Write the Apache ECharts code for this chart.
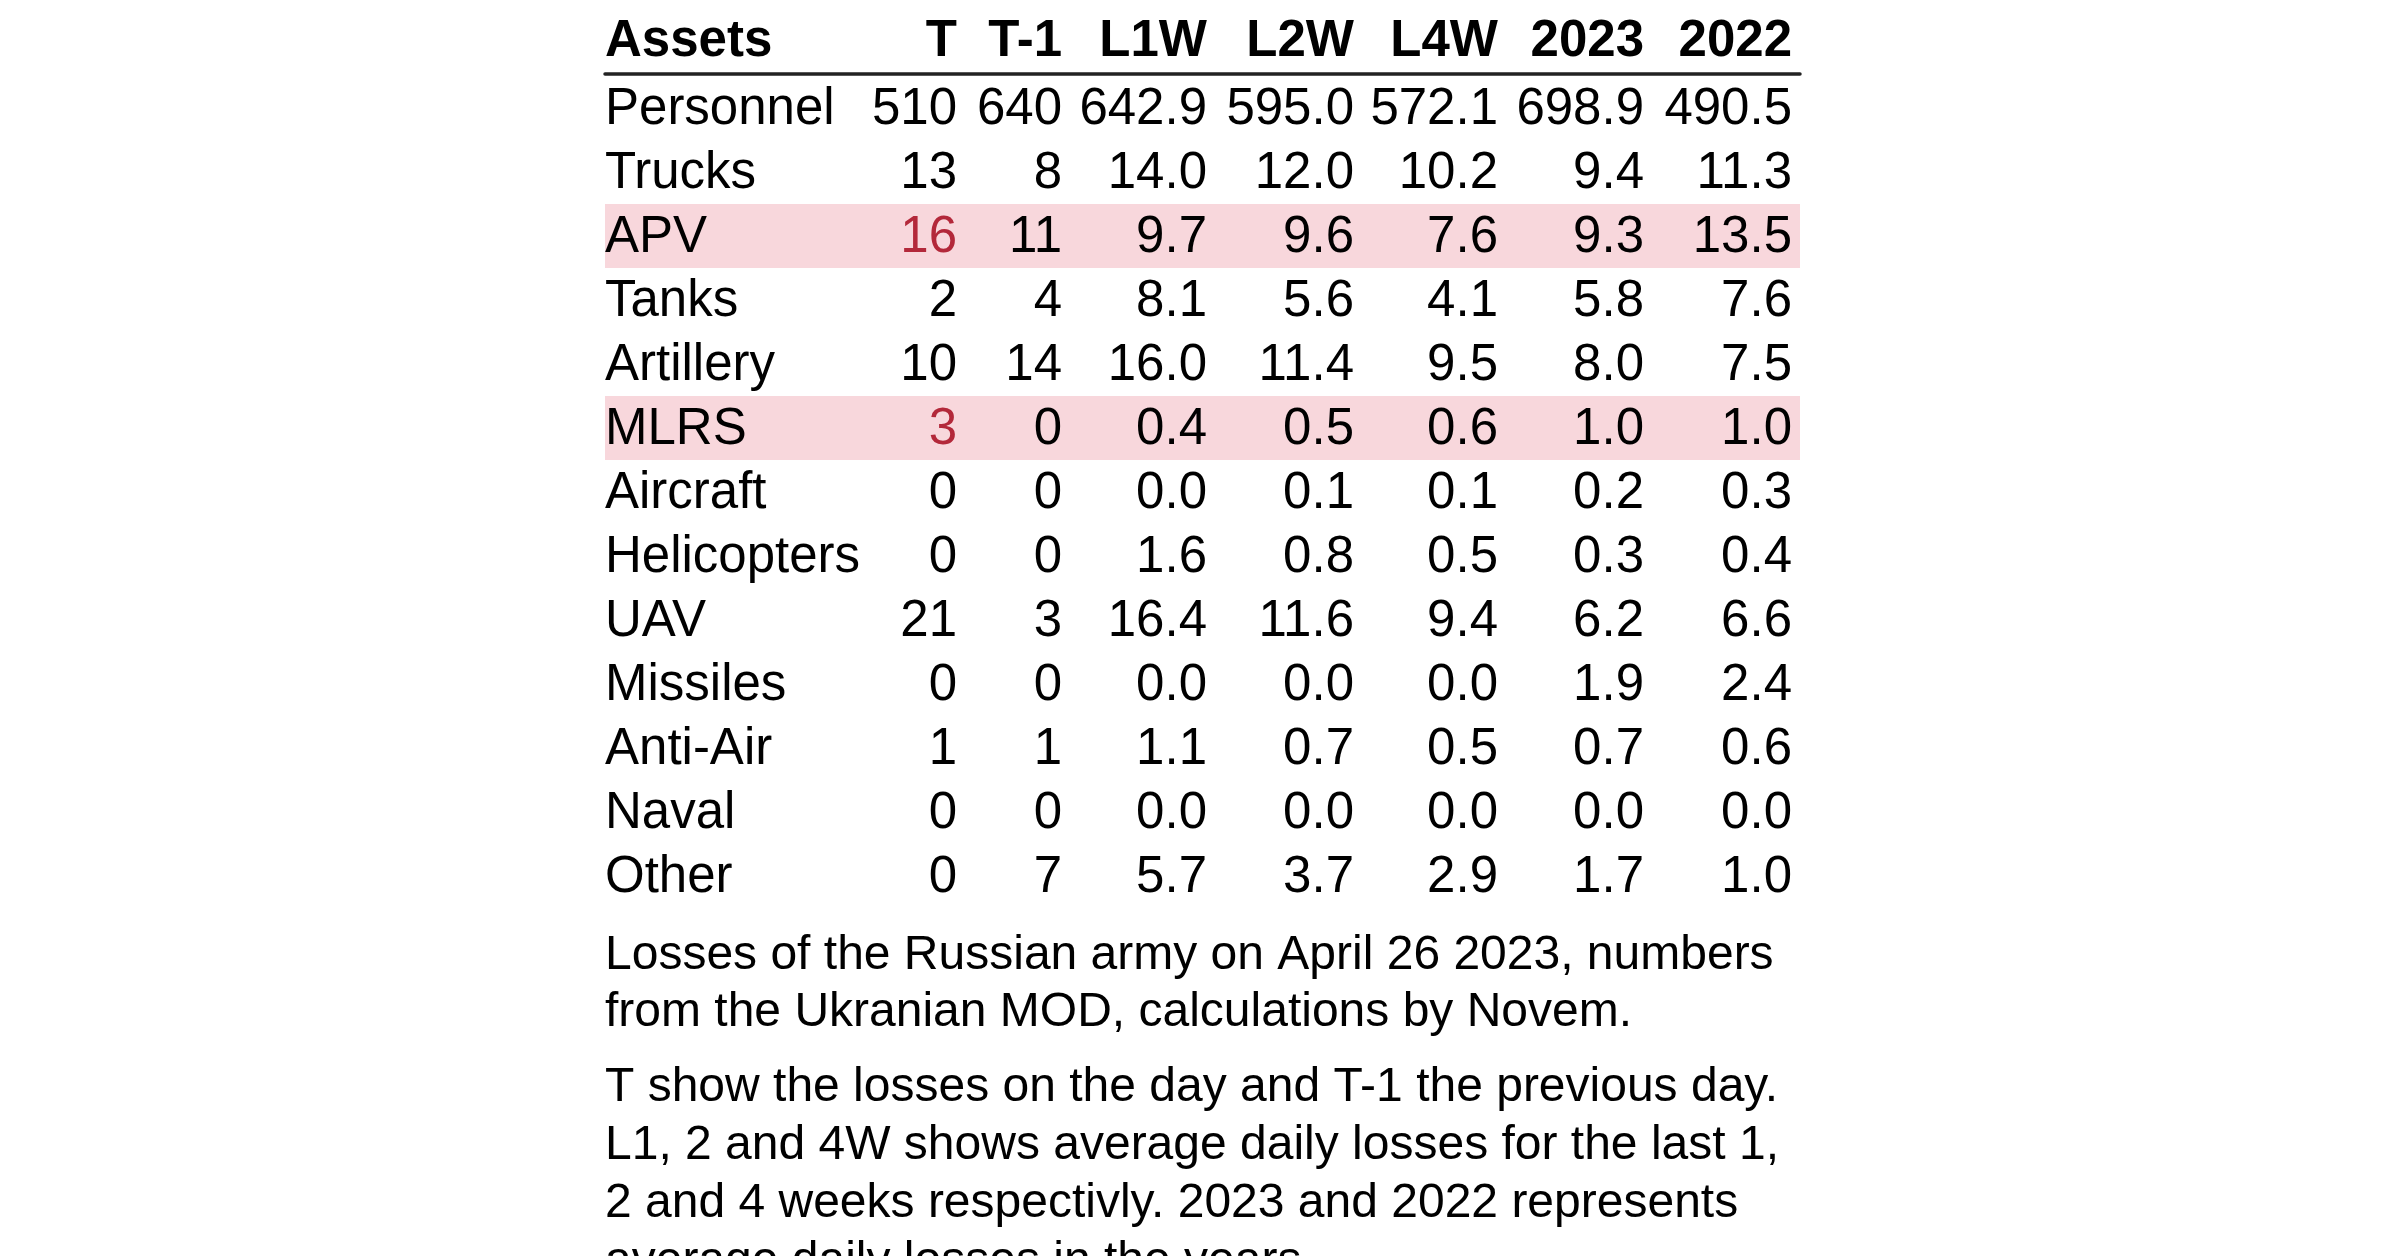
<!DOCTYPE html>
<html>
<head>
<meta charset="utf-8">
<script src="https://cdn.jsdelivr.net/npm/echarts@6/dist/echarts.min.js"></script>
<style>
  html, body { margin: 0; background: #fff; }
  #chart { width: 2400px; height: 1256px; }
</style>
</head>
<body>
<div id="chart"></div>
<script>
// table data
const assets = ["Personnel", "Trucks", "APV", "Tanks", "Artillery", "MLRS", "Aircraft",
  "Helicopters", "UAV", "Missiles", "Anti-Air", "Naval", "Other"];
const columns = ["T", "T-1", "L1W", "L2W", "L4W", "2023", "2022"];
const lossT = [510, 13, 16, 2, 10, 3, 0, 0, 21, 0, 1, 0, 0];
const lossT1 = [640, 8, 11, 4, 14, 0, 0, 0, 3, 0, 1, 0, 7];
const lossL1W = [642.9, 14.0, 9.7, 8.1, 16.0, 0.4, 0.0, 1.6, 16.4, 0.0, 1.1, 0.0, 5.7];
const lossL2W = [595.0, 12.0, 9.6, 5.6, 11.4, 0.5, 0.1, 0.8, 11.6, 0.0, 0.7, 0.0, 3.7];
const lossL4W = [572.1, 10.2, 7.6, 4.1, 9.5, 0.6, 0.1, 0.5, 9.4, 0.0, 0.5, 0.0, 2.9];
const avg2023 = [698.9, 9.4, 9.3, 5.8, 8.0, 1.0, 0.2, 0.3, 6.2, 1.9, 0.7, 0.0, 1.7];
const avg2022 = [490.5, 11.3, 13.5, 7.6, 7.5, 1.0, 0.3, 0.4, 6.6, 2.4, 0.6, 0.0, 1.0];
const highlighted = ["APV", "MLRS"];
const notes = [
  "Losses of the Russian army on April 26 2023, numbers\nfrom the Ukranian MOD, calculations by Novem.",
  "T show the losses on the day and T-1 the previous day.\nL1, 2 and 4W shows average daily losses for the last 1,\n2 and 4 weeks respectivly. 2023 and 2022 represents\naverage daily losses in the years."
];

const series = [lossT, lossT1, lossL1W, lossL2W, lossL4W, avg2023, avg2022];
const decimals = [0, 0, 1, 1, 1, 1, 1];

// layout (x in table units, 0 = left edge of table)
const tableWidth = 1195;
const colRight = [352, 457, 602, 749, 893, 1039, 1187];
const font = "Liberation Sans, Arial, Helvetica, sans-serif";
const red = "#b3283a";

// one entry per text cell, row -1 is the header
const cells = [];
cells.push({ x: 0, row: -1, text: "Assets", align: "left", bold: true });
columns.forEach((c, ci) => cells.push({ x: colRight[ci], row: -1, text: c, align: "right", bold: true }));
assets.forEach((a, ri) => {
  const hl = highlighted.includes(a);
  cells.push({ x: 0, row: ri, text: a, align: "left" });
  series.forEach((vals, ci) => {
    cells.push({
      x: colRight[ci], row: ri, text: vals[ri].toFixed(decimals[ci]), align: "right",
      color: hl && ci === 0 ? red : "#000"
    });
  });
});

const chart = echarts.init(document.getElementById("chart"));
chart.setOption({
  animation: false,
  backgroundColor: "#fff",
  grid: { left: 605, right: 600, top: 76, bottom: 348 },
  xAxis: {
    type: "value", min: 0, max: tableWidth, position: "top", offset: 2.5,
    axisLine: { show: true, lineStyle: { color: "#222", width: 3.5 } },
    axisTick: { show: false }, axisLabel: { show: false }, splitLine: { show: false }
  },
  yAxis: {
    type: "category", data: assets, inverse: true,
    axisLine: { show: false }, axisTick: { show: false }, axisLabel: { show: false }, splitLine: { show: false }
  },
  series: [
    {
      type: "bar",
      data: assets.map(a => (highlighted.includes(a) ? tableWidth : "-")),
      barWidth: "100%",
      itemStyle: { color: "#f8d7dc" },
      silent: true,
      z: 1
    },
    {
      type: "custom",
      clip: false,
      z: 5,
      data: cells.map(c => [c.x, Math.max(c.row, 0)]),
      renderItem: (params, api) => {
        const cell = cells[params.dataIndex];
        const pt = api.coord([api.value(0), api.value(1)]);
        const rowH = api.size([0, 1])[1];
        let y = pt[1] + 2;
        if (cell.row < 0) y = pt[1] - rowH - 2;
        return {
          type: "text",
          style: {
            x: pt[0], y: y,
            text: cell.text,
            align: cell.align,
            verticalAlign: "middle",
            fill: cell.color || "#000",
            font: (cell.bold ? "bold " : "") + "51px " + font
          }
        };
      }
    }
  ],
  graphic: [
    {
      type: "text", left: 605, top: 927,
      style: { text: notes[0], font: "48px " + font, lineHeight: 57, fill: "#000" }
    },
    {
      type: "text", left: 605, top: 1059,
      style: { text: notes[1], font: "48px " + font, lineHeight: 58, fill: "#000" }
    }
  ]
});
</script>
</body>
</html>
